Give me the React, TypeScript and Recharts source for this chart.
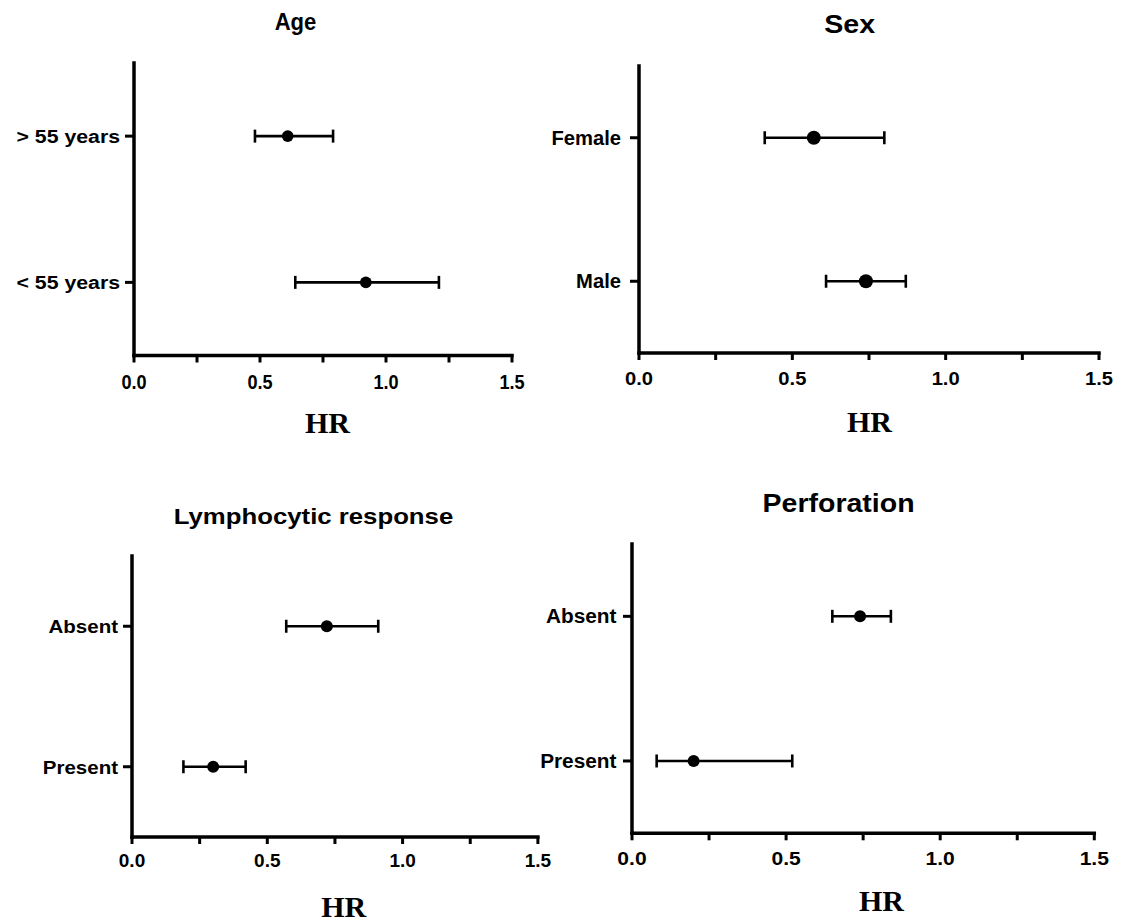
import React from 'react';
import { ScatterChart, Scatter, XAxis, YAxis, ErrorBar } from 'recharts';

// ---------- data ----------
const ageCategories = ['> 55 years', '< 55 years'];
const ageHR = [0.61, 0.92];
const ageLower = [0.48, 0.64];
const ageUpper = [0.79, 1.21];

const sexCategories = ['Female', 'Male'];
const sexHR = [0.57, 0.74];
const sexLower = [0.41, 0.61];
const sexUpper = [0.8, 0.87];

const lymphCategories = ['Absent', 'Present'];
const lymphHR = [0.72, 0.3];
const lymphLower = [0.57, 0.19];
const lymphUpper = [0.91, 0.42];

const perfCategories = ['Absent', 'Present'];
const perfHR = [0.74, 0.2];
const perfLower = [0.65, 0.08];
const perfUpper = [0.84, 0.52];

const hrTicks = [0, 0.25, 0.5, 0.75, 1, 1.25, 1.5];
const hrTickLabels = ['0.0', '', '0.5', '', '1.0', '', '1.5'];
const panelTitles = ['Age', 'Sex', 'Lymphocytic response', 'Perforation'];
const xAxisTitle = 'HR';

// ---------- helpers ----------
const buildRows = (cats: string[], hr: number[], lo: number[], hi: number[]) =>
  cats.map((c, i) => ({
    label: c,
    hr: hr[i],
    pos: cats.length - i,
    err: [+(hr[i] - lo[i]).toFixed(3), +(hi[i] - hr[i]).toFixed(3)],
  }));

const SANS = "'Liberation Sans', Arial, Helvetica, sans-serif";
const SERIF = "'Liberation Serif', 'Times New Roman', serif";

function SText({
  x,
  y,
  sx,
  fs,
  anchor,
  family,
  children,
}: {
  x: number;
  y: number;
  sx: number;
  fs: number;
  anchor: 'start' | 'middle' | 'end';
  family: string;
  children: React.ReactNode;
}) {
  return (
    <text
      transform={`translate(${x},${y}) scale(${sx},1)`}
      x={0}
      y={0}
      textAnchor={anchor}
      fontFamily={family}
      fontWeight="bold"
      fontSize={fs}
      fill="#000"
    >
      {children}
    </text>
  );
}

// layout (positions / styles only)
const layouts = [
  {
    plot: { l: 133.5, r: 511.5, t: 63, b: 355.5 },
    dot: 5.8,
    yTick: { gap: 14, fs: 19, sx: 1.12 },
    xTick: { fs: 19.5, sx: 0.93, capTop: 20 },
    title: { x: 295.5, y: 29.5, fs: 24.5, sx: 0.9 },
    hr: { x: 327.5, y: 433.3 },
  },
  {
    plot: { l: 639.3, r: 1099.3, t: 65.7, b: 352.7 },
    dot: 7,
    yTick: { gap: 18, fs: 20, sx: 1.01 },
    xTick: { fs: 18, sx: 1.12, capTop: 19.6 },
    title: { x: 849.6, y: 32.7, fs: 26, sx: 1.1 },
    hr: { x: 869.5, y: 431.7 },
  },
  {
    plot: { l: 132.3, r: 538.2, t: 555.7, b: 836.7 },
    dot: 6,
    yTick: { gap: 14, fs: 19, sx: 1.08 },
    xTick: { fs: 19, sx: 1.0, capTop: 16.6 },
    title: { x: 313.5, y: 524, fs: 23, sx: 1.12 },
    hr: { x: 343.7, y: 917 },
  },
  {
    plot: { l: 632.3, r: 1094.6, t: 544, b: 833.3 },
    dot: 6,
    yTick: { gap: 15.6, fs: 20, sx: 1.04 },
    xTick: { fs: 18, sx: 1.17, capTop: 18.4 },
    title: { x: 838.6, y: 512.3, fs: 25, sx: 1.14 },
    hr: { x: 881.5, y: 911 },
  },
];

const panelsData = [
  { cats: ageCategories, rows: buildRows(ageCategories, ageHR, ageLower, ageUpper) },
  { cats: sexCategories, rows: buildRows(sexCategories, sexHR, sexLower, sexUpper) },
  { cats: lymphCategories, rows: buildRows(lymphCategories, lymphHR, lymphLower, lymphUpper) },
  { cats: perfCategories, rows: buildRows(perfCategories, perfHR, perfLower, perfUpper) },
];

const PAD_L = 150;
const PAD_T = 20;
const PAD_R = 25;
const PAD_B = 60;
const Y_AXIS_W = 140;
const X_AXIS_H = 50;
const X_TICK_SIZE = 7;
const Y_TICK_SIZE = 9;

function Panel({ idx }: { idx: number }) {
  const lay = layouts[idx];
  const { cats, rows } = panelsData[idx];
  const pw = lay.plot.r - lay.plot.l;
  const ph = lay.plot.b - lay.plot.t;
  const width = pw + PAD_L + PAD_R;
  const height = ph + PAD_T + PAD_B;

  const xTickRender = (props: any) => {
    const { x, y, payload } = props;
    const i = hrTicks.indexOf(payload.value);
    const label = i >= 0 ? hrTickLabels[i] : '';
    if (!label) return <g />;
    const fs = lay.xTick.fs;
    return (
      <SText x={x} y={y + fs * 0.716} sx={lay.xTick.sx} fs={fs} anchor="middle" family={SANS}>
        {label}
      </SText>
    );
  };

  const yTickRender = (props: any) => {
    const { x, y, payload } = props;
    const fs = lay.yTick.fs;
    const label = cats[cats.length - payload.value];
    return (
      <SText x={x} y={y + fs * 0.358} sx={lay.yTick.sx} fs={fs} anchor="end" family={SANS}>
        {label}
      </SText>
    );
  };

  return (
    <div
      style={{
        position: 'absolute',
        left: lay.plot.l - PAD_L,
        top: lay.plot.t - PAD_T,
        width,
        height,
      }}
    >
      <ScatterChart
        width={width}
        height={height}
        margin={{ top: PAD_T, right: PAD_R, bottom: PAD_B - X_AXIS_H, left: PAD_L - Y_AXIS_W }}
      >
        <XAxis
          type="number"
          dataKey="hr"
          domain={[0, 1.5]}
          ticks={hrTicks}
          interval={0}
          height={X_AXIS_H}
          tickSize={X_TICK_SIZE}
          tickMargin={lay.xTick.capTop - X_TICK_SIZE}
          axisLine={{ stroke: '#000', strokeWidth: 3.5, strokeLinecap: 'square' }}
          tickLine={{ stroke: '#000', strokeWidth: 3 }}
          tick={xTickRender}
        />
        <YAxis
          type="number"
          dataKey="pos"
          domain={[0.5, 2.5]}
          ticks={[1, 2]}
          interval={0}
          width={Y_AXIS_W}
          tickSize={Y_TICK_SIZE}
          tickMargin={lay.yTick.gap - Y_TICK_SIZE}
          axisLine={{ stroke: '#000', strokeWidth: 3.5, strokeLinecap: 'square' }}
          tickLine={{ stroke: '#000', strokeWidth: 3 }}
          tick={yTickRender}
        />
        <Scatter
          data={rows}
          isAnimationActive={false}
          fill="#000"
          shape={(p: any) => <circle cx={p.cx} cy={p.cy} r={lay.dot} fill="#000" />}
        >
          <ErrorBar
            dataKey="err"
            direction="x"
            width={6.5}
            stroke="#000"
            strokeWidth={2.6}
            isAnimationActive={false}
          />
        </Scatter>
      </ScatterChart>
    </div>
  );
}

export default function App() {
  return (
    <div
      style={{
        position: 'absolute',
        left: 0,
        top: 0,
        width: 1121,
        height: 922,
        background: '#fff',
        overflow: 'hidden',
      }}
    >
      {layouts.map((_, i) => (
        <Panel key={i} idx={i} />
      ))}
      <svg
        width={1121}
        height={922}
        style={{ position: 'absolute', left: 0, top: 0, pointerEvents: 'none' }}
      >
        {layouts.map((lay, i) => (
          <g key={i}>
            <SText x={lay.title.x} y={lay.title.y} sx={lay.title.sx} fs={lay.title.fs} anchor="middle" family={SANS}>
              {panelTitles[i]}
            </SText>
            <SText x={lay.hr.x} y={lay.hr.y} sx={1} fs={30} anchor="middle" family={SERIF}>
              {xAxisTitle}
            </SText>
          </g>
        ))}
      </svg>
    </div>
  );
}
